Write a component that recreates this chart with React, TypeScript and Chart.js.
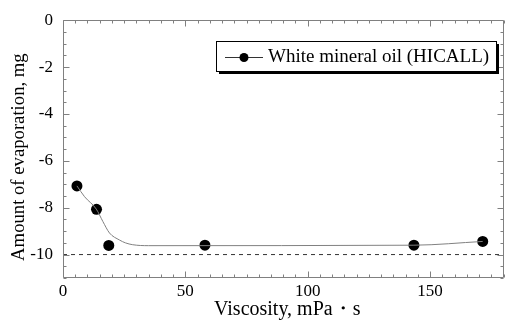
import React, { useEffect, useRef } from 'react';
import { Chart, registerables } from 'chart.js';

Chart.register(...registerables);

const seriesLabel = 'White mineral oil (HICALL)';
const xTitle = 'Viscosity, mPa・s';
const yTitle = 'Amount of evaporation, mg';

const viscosity = [5.7, 13.7, 18.7, 58, 143.4, 171.5];
const evaporation = [-7.07, -8.07, -9.61, -9.6, -9.6, -9.44];

const fitViscosity = [5.7, 8.8, 13.6, 16.3, 19, 23.1, 25.5, 28.5, 35, 143.4, 171.5];
const fitEvaporation = [-7.07, -7.53, -8.06, -8.59, -9.08, -9.38, -9.5, -9.58, -9.62, -9.6, -9.44];

const refViscosity = [0, 180];
const refEvaporation = [-10, -10];

const xTicks = [0, 50, 100, 150];
const yTicks = [0, -2, -4, -6, -8, -10];
const xRange = [0, 180];
const yRange = [-11, 0];
const xMinorStep = 5;
const yMinorStep = 0.5;

const FONT = '"Liberation Serif", "Times New Roman", serif';

const framePlugin = {
  id: 'frameTicks',
  afterDatasetsDraw(chart: any) {
    const { ctx, chartArea, scales } = chart;
    const { left, right, top, bottom } = chartArea;
    const xs = scales.x;
    const ys = scales.y;
    ctx.save();
    ctx.strokeStyle = '#808080';
    ctx.lineWidth = 1;
    const L = Math.round(left) + 0.5;
    const R = Math.round(right) - 0.5;
    const T = Math.round(top) + 0.5;
    const B = Math.round(bottom) - 0.5;
    ctx.beginPath();
    ctx.rect(L, T, R - L, B - T);
    ctx.stroke();
    ctx.beginPath();
    for (let v = xRange[0]; v <= xRange[1] + 1e-9; v += xMinorStep) {
      const px = Math.round(xs.getPixelForValue(v)) + 0.5;
      const major = xTicks.includes(v);
      const len = major ? 6 : 3;
      ctx.moveTo(px, B);
      ctx.lineTo(px, B - len);
      ctx.moveTo(px, T);
      ctx.lineTo(px, T + len);
    }
    for (let v = yRange[0]; v <= yRange[1] + 1e-9; v += yMinorStep) {
      const py = Math.round(ys.getPixelForValue(v)) + 0.5;
      const major = yTicks.includes(v);
      const len = major ? 6 : 3;
      ctx.moveTo(L, py);
      ctx.lineTo(L + len, py);
      ctx.moveTo(R, py);
      ctx.lineTo(R - len, py);
    }
    ctx.stroke();
    ctx.restore();
  },
  afterDraw(chart: any) {
    const { ctx, chartArea } = chart;
    const ds = chart.data.datasets[2];
    const bx = 216, by = 41, bw = 280, bh = 30;
    ctx.save();
    ctx.fillStyle = '#000';
    ctx.fillRect(bx + 3, by + 3, bw, bh);
    ctx.fillStyle = '#fff';
    ctx.fillRect(bx, by, bw, bh);
    ctx.strokeStyle = '#000';
    ctx.lineWidth = 1;
    ctx.strokeRect(bx + 0.5, by + 0.5, bw, bh);
    const cy = by + bh / 2 + 1;
    ctx.strokeStyle = '#333';
    ctx.beginPath();
    ctx.moveTo(225, cy + 0.5);
    ctx.lineTo(263, cy + 0.5);
    ctx.stroke();
    ctx.fillStyle = '#000';
    ctx.beginPath();
    ctx.arc(244, cy + 0.5, 4.5, 0, Math.PI * 2);
    ctx.fill();
    ctx.font = '19px ' + FONT;
    ctx.textBaseline = 'middle';
    ctx.textAlign = 'left';
    ctx.fillText(ds.label, 268, cy);
    // x axis title
    ctx.textAlign = 'center';
    ctx.font = '20px ' + FONT;
    ctx.fillText(xTitle, (chartArea.left + chartArea.right) / 2 + 4, 310);
    // y axis title
    ctx.translate(19, (chartArea.top + chartArea.bottom) / 2 + 8);
    ctx.rotate(-Math.PI / 2);
    ctx.textAlign = 'center';
    ctx.textBaseline = 'middle';
    ctx.font = '18.7px ' + FONT;
    ctx.fillText(yTitle, 0, 0);
    ctx.restore();
  },
};

export default function App() {
  const ref = useRef<HTMLCanvasElement | null>(null);
  useEffect(() => {
    if (!ref.current) return;
    const chart = new Chart(ref.current, {
      type: 'scatter',
      data: {
        datasets: [
          {
            label: 'reference',
            data: refViscosity.map((x, i) => ({ x, y: refEvaporation[i] })),
            showLine: true,
            borderColor: '#333',
            borderWidth: 1,
            borderDash: [4, 4],
            pointRadius: 0,
          },
          {
            label: 'fit',
            data: fitViscosity.map((x, i) => ({ x, y: fitEvaporation[i] })),
            showLine: true,
            borderColor: '#808080',
            borderWidth: 1,
            cubicInterpolationMode: 'monotone',
            pointRadius: 0,
          },
          {
            label: seriesLabel,
            data: viscosity.map((x, i) => ({ x, y: evaporation[i] })),
            showLine: false,
            backgroundColor: '#000',
            borderColor: '#000',
            pointRadius: 5.5,
            pointBorderWidth: 0,
          },
        ],
      },
      options: {
        animation: false,
        responsive: false,
        devicePixelRatio: 1,
        layout: { padding: { top: 19, right: 3, left: 0, bottom: 0 } },
        plugins: { legend: { display: false }, tooltip: { enabled: false } },
        scales: {
          x: {
            type: 'linear',
            min: xRange[0],
            max: xRange[1],
            grid: { display: false, drawTicks: false },
            border: { display: false },
            afterBuildTicks: (s: any) => {
              s.ticks = xTicks.map((v) => ({ value: v }));
            },
            afterFit: (s: any) => {
              s.height = 44;
            },
            ticks: {
              color: '#000',
              font: { family: FONT, size: 17 },
              padding: 3,
              maxRotation: 0,
            },
            title: { display: false },
          },
          y: {
            type: 'linear',
            min: yRange[0],
            max: yRange[1],
            grid: { display: false, drawTicks: false },
            border: { display: false },
            afterBuildTicks: (s: any) => {
              s.ticks = yTicks.map((v) => ({ value: v }));
            },
            afterFit: (s: any) => {
              s.width = 63;
            },
            ticks: {
              color: '#000',
              font: { family: FONT, size: 17 },
              padding: 10,
            },
            title: { display: false },
          },
        },
      },
      plugins: [framePlugin],
    } as any);
    return () => chart.destroy();
  }, []);
  return (
    <div style={{ position: 'absolute', left: 0, top: 0, width: 509, height: 322, background: '#fff' }}>
      <canvas ref={ref} width={509} height={322} style={{ display: 'block' }} />
    </div>
  );
}
